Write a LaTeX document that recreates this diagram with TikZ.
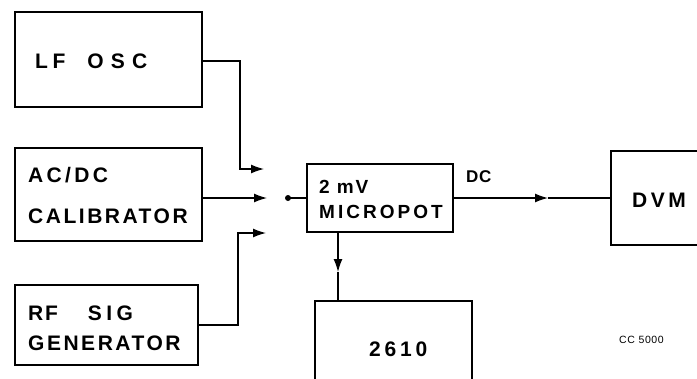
\documentclass[tikz,border=0pt]{standalone}
\usepackage{fontspec}
\setmainfont{Liberation Sans}
\usetikzlibrary{arrows.meta,fit}
\newcommand{\lsfont}[2]{\bfseries\fontsize{#1}{#1}\selectfont\addfontfeature{LetterSpace=#2}}
\begin{document}
\begin{tikzpicture}[x=1pt,y=-1pt,
  box/.style={draw, line width=1.6pt, inner sep=0pt},
  wire/.style={line width=1.3pt},
  arr/.style={wire, -{Latex[length=13pt,width=9pt]}},
  lbl/.style={anchor=base west, inner sep=0pt, font=\lsfont{21}{12}},
  tiny/.style={anchor=base west, inner sep=0pt, font=\fontsize{10.5}{12}\selectfont\addfontfeature{LetterSpace=6}}]
\useasboundingbox (0,0) rectangle (697,378);
\clip (0,0) rectangle (697,378);
% boxes
\node[box, fit={(15,12) (202,107)}] (lf) {};
\node[box, fit={(15,148) (202,241)}] (ac) {};
\node[box, fit={(15,285) (198,365)}] (rf) {};
\node[box, fit={(307,164) (453,232)}] (mp) {};
\node[box, fit={(315,301) (472,392)}] (ct) {};
\node[box, fit={(611,151) (712,245)}] (dvm) {};
% labels
\node[lbl, font=\lsfont{21}{22}] (tlf) at (35,68) {LF\hspace{22pt}\addfontfeature{LetterSpace=34}OSC};
\node[lbl, font=\lsfont{21}{16}] (tac) at (28,182) {AC/DC};
\node[lbl] (tcal) at (28,223) {CALIBRATOR};
\node[lbl, font=\lsfont{21}{8}] (trf) at (28,320) {RF\hspace{30pt}\addfontfeature{LetterSpace=21}SIG};
\node[lbl] (tgen) at (28,350) {GENERATOR};
\node[lbl, font=\lsfont{19}{10}] (t2mv) at (319,193) {2 mV};
\node[lbl, font=\lsfont{19}{16}] (tmp) at (319,218) {MICROPOT};
\node[lbl, font=\lsfont{17}{4}] (tdc) at (466,182) {DC};
\node[lbl, font=\lsfont{21}{17}] (tdvm) at (632,207) {DVM};
\node[lbl, font=\lsfont{21}{18}] (t2610) at (369,356) {2610};
\node[tiny] (tcc) at (619,343) {CC 5000};
% coordinates
\coordinate (alf) at (264,169);
\coordinate (aac) at (267,198);
\coordinate (arf) at (266,233);
\coordinate (dot) at (288,198);
\coordinate (mdc) at (548,198);
\coordinate (mdn) at (338,272);
% connectors
\draw[arr] (lf.east |- 0,61) -| (240,169) -- (alf);
\draw[arr] (ac.east |- aac) -- (aac);
\draw[arr] (rf.east |- 0,325) -| (238,233) -- (arf);
\fill (dot) circle (3pt);
\draw[wire] (dot) -- (mp.west |- dot);
\draw[arr] (mp.east |- mdc) -- (mdc);
\draw[wire] (mdc) -- (dvm.west |- mdc);
\draw[arr] (mp.south -| mdn) -- (mdn);
\draw[wire] (mdn) -- (ct.north -| mdn);
\end{tikzpicture}
\end{document}
